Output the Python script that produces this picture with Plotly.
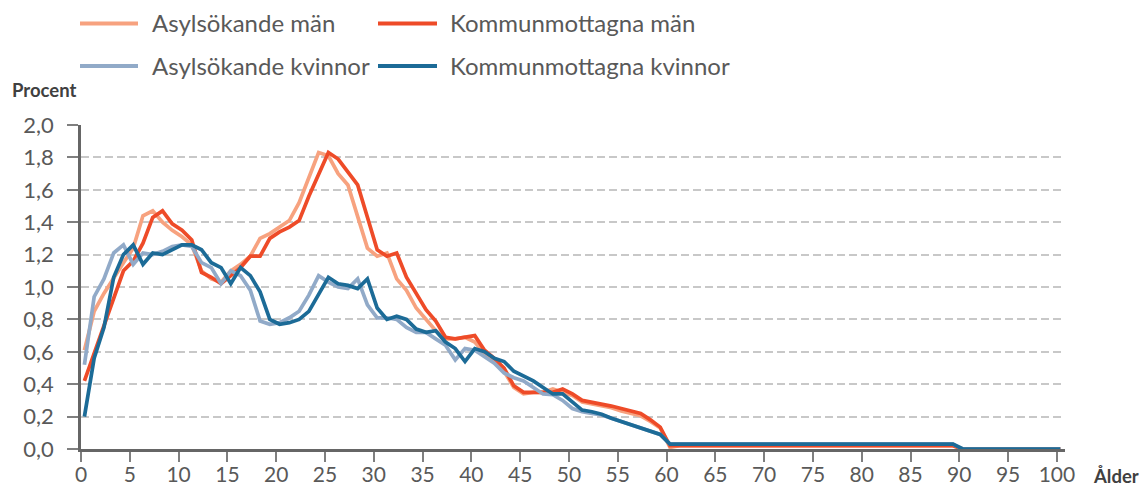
import plotly.graph_objects as go

ages = list(range(0, 101))

asyl_man = [
    0.61, 0.85, 0.96, 1.06, 1.15, 1.24, 1.44, 1.47, 1.40, 1.35,
    1.31, 1.26, 1.10, 1.05, 1.03, 1.10, 1.14, 1.19, 1.30, 1.33,
    1.37, 1.41, 1.52, 1.68, 1.83, 1.81, 1.70, 1.63, 1.43, 1.24,
    1.19, 1.21, 1.05, 0.98, 0.87, 0.80, 0.73, 0.68, 0.68, 0.69,
    0.66, 0.59, 0.54, 0.48, 0.38, 0.34, 0.35, 0.35, 0.37, 0.35,
    0.33, 0.29, 0.28, 0.27, 0.255, 0.235, 0.22, 0.205, 0.17, 0.13,
    0.01, 0.02, 0.02, 0.02, 0.02, 0.02, 0.02, 0.02, 0.02, 0.02,
    0.02, 0.02, 0.02, 0.02, 0.02, 0.02, 0.02, 0.02, 0.02, 0.02,
    0.02, 0.02, 0.02, 0.02, 0.02, 0.02, 0.02, 0.02, 0.02, 0.02,
    0.0, 0.0, 0.0, 0.0, 0.0, 0.0, 0.0, 0.0, 0.0, 0.0, 0.0,
]

kommun_man = [
    0.42, 0.59, 0.75, 0.93, 1.10, 1.16, 1.27, 1.43, 1.47, 1.39,
    1.35, 1.29, 1.09, 1.06, 1.02, 1.07, 1.12, 1.19, 1.19, 1.30,
    1.34, 1.37, 1.41, 1.56, 1.70, 1.83, 1.79, 1.71, 1.63, 1.43,
    1.23, 1.19, 1.21, 1.06, 0.96, 0.86, 0.79, 0.69, 0.68, 0.69,
    0.70, 0.61, 0.56, 0.50, 0.39, 0.35, 0.35, 0.35, 0.35, 0.37,
    0.34, 0.30, 0.29, 0.28, 0.265, 0.25, 0.235, 0.22, 0.18, 0.135,
    0.02, 0.02, 0.02, 0.02, 0.02, 0.02, 0.02, 0.02, 0.02, 0.02,
    0.02, 0.02, 0.02, 0.02, 0.02, 0.02, 0.02, 0.02, 0.02, 0.02,
    0.02, 0.02, 0.02, 0.02, 0.02, 0.02, 0.02, 0.02, 0.02, 0.02,
    0.0, 0.0, 0.0, 0.0, 0.0, 0.0, 0.0, 0.0, 0.0, 0.0, 0.0,
]

asyl_kvinnor = [
    0.52, 0.94, 1.05, 1.21, 1.26, 1.14, 1.21, 1.20, 1.22, 1.25,
    1.26, 1.25, 1.15, 1.12, 1.02, 1.10, 1.07, 0.98, 0.79, 0.77,
    0.78, 0.81, 0.85, 0.95, 1.07, 1.03, 1.00, 0.99, 1.05, 0.89,
    0.81, 0.81, 0.80, 0.75, 0.72, 0.72, 0.68, 0.64, 0.55, 0.62,
    0.61, 0.57, 0.53, 0.47, 0.44, 0.42, 0.38, 0.34, 0.335, 0.30,
    0.25, 0.23, 0.22, 0.21, 0.19, 0.17, 0.15, 0.135, 0.115, 0.09,
    0.03, 0.03, 0.03, 0.03, 0.03, 0.03, 0.03, 0.03, 0.03, 0.03,
    0.03, 0.03, 0.03, 0.03, 0.03, 0.03, 0.03, 0.03, 0.03, 0.03,
    0.03, 0.03, 0.03, 0.03, 0.03, 0.03, 0.03, 0.03, 0.03, 0.03,
    0.0, 0.0, 0.0, 0.0, 0.0, 0.0, 0.0, 0.0, 0.0, 0.0, 0.0,
]

kommun_kvinnor = [
    0.20, 0.56, 0.75, 1.06, 1.20, 1.26, 1.14, 1.21, 1.20, 1.23,
    1.26, 1.26, 1.23, 1.15, 1.12, 1.02, 1.12, 1.07, 0.97, 0.80,
    0.77, 0.78, 0.80, 0.85, 0.95, 1.06, 1.02, 1.01, 0.99, 1.05,
    0.87, 0.80, 0.82, 0.80, 0.74, 0.72, 0.73, 0.66, 0.62, 0.54,
    0.62, 0.60, 0.56, 0.54, 0.48, 0.45, 0.42, 0.38, 0.34, 0.34,
    0.29, 0.24, 0.23, 0.215, 0.19, 0.17, 0.155, 0.135, 0.115, 0.09,
    0.03, 0.03, 0.03, 0.03, 0.03, 0.03, 0.03, 0.03, 0.03, 0.03,
    0.03, 0.03, 0.03, 0.03, 0.03, 0.03, 0.03, 0.03, 0.03, 0.03,
    0.03, 0.03, 0.03, 0.03, 0.03, 0.03, 0.03, 0.03, 0.03, 0.03,
    0.0, 0.0, 0.0, 0.0, 0.0, 0.0, 0.0, 0.0, 0.0, 0.0, 0.0,
]

series_names = ["Asylsökande män", "Kommunmottagna män",
                "Asylsökande kvinnor", "Kommunmottagna kvinnor"]
series_values = [asyl_man, kommun_man, asyl_kvinnor, kommun_kvinnor]
series_colors = ["#F7A27F", "#EE4B28", "#91AAC8", "#1C6B97"]

x_tick_labels = [str(v) for v in range(0, 101, 5)]
y_tick_values = [0.0, 0.2, 0.4, 0.6, 0.8, 1.0, 1.2, 1.4, 1.6, 1.8, 2.0]
y_tick_labels = ["0,0", "0,2", "0,4", "0,6", "0,8", "1,0",
                 "1,2", "1,4", "1,6", "1,8", "2,0"]

FONT = "Lato"
GRAY = "#595959"
W, H = 1143, 488
ML, MR, MT, MB = 81, 78, 125, 39
PW, PH = W - ML - MR, H - MT - MB

X_SHIFT = 0.35  # category-boundary offset of tick marks

fig = go.Figure()
for name, vals, col in zip(series_names, series_values, series_colors):
    fig.add_trace(go.Scatter(
        x=ages, y=vals, mode="lines", name=name,
        line=dict(color=col, width=3.7), showlegend=False,
        hoverinfo="x+y+name", cliponaxis=False,
    ))


def px_x(p):
    return (p - ML) / PW


def px_y(p):
    return (H - MB - p) / PH


# manual legend (2 x 2)
leg_pos = [(80, 138, 150, 23.5), (378, 437, 448, 23.5),
           (80, 138, 150, 66), (378, 437, 448, 66)]
shapes = []
annotations = []
for (x0, x1, tx, yc), name, col in zip(leg_pos, series_names, series_colors):
    shapes.append(dict(type="line", xref="paper", yref="paper",
                       x0=px_x(x0), x1=px_x(x1), y0=px_y(yc), y1=px_y(yc),
                       line=dict(color=col, width=4)))
    annotations.append(dict(text=name, xref="paper", yref="paper",
                            x=px_x(tx), y=px_y(yc - 0.5), xanchor="left",
                            yanchor="middle", showarrow=False,
                            font=dict(family=FONT, size=24, color=GRAY)))

annotations.append(dict(text="<b>Procent</b>", xref="paper", yref="paper",
                        x=px_x(10), y=px_y(90), xanchor="left",
                        yanchor="middle", showarrow=False,
                        font=dict(family=FONT, size=18.5, color="#404040")))
annotations.append(dict(text="<b>Ålder</b>", xref="paper", yref="paper",
                        x=px_x(1091), y=px_y(476), xanchor="left",
                        yanchor="middle", showarrow=False,
                        font=dict(family=FONT, size=18.5, color="#404040")))

fig.update_layout(
    width=W, height=H,
    margin=dict(l=ML, r=MR, t=MT, b=MB, pad=0, autoexpand=False),
    paper_bgcolor="white", plot_bgcolor="white",
    shapes=shapes, annotations=annotations,
    font=dict(family=FONT, color=GRAY),
    showlegend=False,
    xaxis=dict(
        range=[-X_SHIFT, 100.48],
        tickmode="array",
        tickvals=[int(t) - X_SHIFT for t in x_tick_labels],
        ticktext=x_tick_labels,
        ticks="outside", ticklen=10, tickwidth=1.5, tickcolor="#7F7F7F",
        showline=True, linecolor="#666666", linewidth=3,
        showgrid=False, zeroline=False, automargin=False,
        tickfont=dict(family=FONT, size=21, color=GRAY),
        ticklabelstandoff=-5,
    ),
    yaxis=dict(
        range=[0, 2.0],
        tickmode="array", tickvals=y_tick_values, ticktext=y_tick_labels,
        ticks="outside", ticklen=11, tickwidth=1.5, tickcolor="#7F7F7F",
        showline=True, linecolor="#666666", linewidth=2.5,
        showgrid=True, gridcolor="#C8C8C8", gridwidth=1.5,
        griddash="8px,4px",
        zeroline=False, automargin=False,
        tickfont=dict(family=FONT, size=22, color=GRAY),
        ticklabelstandoff=9,
    ),
)

fig.write_html(
    "out.html",
    config={"displayModeBar": False},
    post_script="document.body.style.margin='0';document.body.style.padding='0';",
)
